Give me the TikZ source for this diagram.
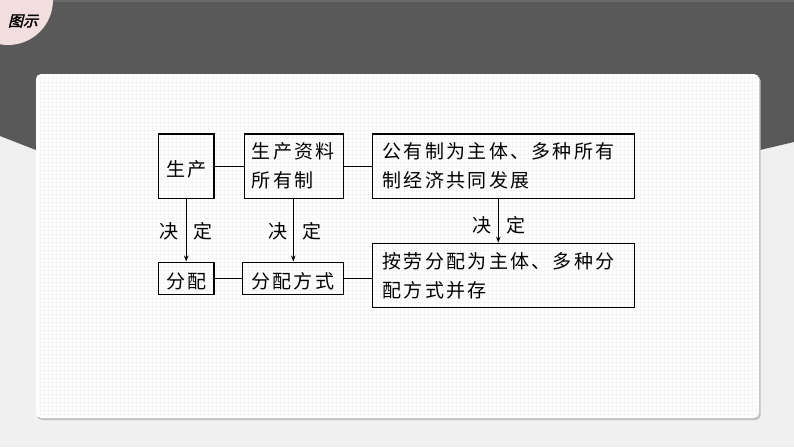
\documentclass[tikz,border=0pt]{standalone}
\usepackage{fontspec}
\newfontfamily\cjk[LetterSpace=12]{Noto Sans CJK SC}
\newfontfamily\cjkplain{Noto Sans CJK SC}
\newfontfamily\cjktitle[FakeSlant=0.25,FakeBold=2]{Noto Sans CJK SC}
\usetikzlibrary{arrows.meta,calc}
\definecolor{bgc}{HTML}{F0F0F0}
\definecolor{bandc}{HTML}{595959}
\definecolor{bandtop}{HTML}{6A6A6A}
\definecolor{pinkc}{HTML}{F2DEDE}
\definecolor{gridc}{HTML}{F5F5F5}
\tikzset{
  box/.style={draw=black, line width=1.2pt, inner sep=0pt, align=left,
    font=\cjk\fontsize{19pt}{29pt}\selectfont},
  onebox/.style={box, align=center, text height=22pt, text depth=2pt},
  conn/.style={draw=black, line width=1pt},
  arr/.style={conn, -{Stealth[length=6pt,width=4.5pt]}},
  lbl/.style={inner sep=0pt, text height=22pt, text depth=2pt,
    font=\cjkplain\fontsize{19pt}{20pt}\selectfont}
}
\begin{document}
\begin{tikzpicture}[x=1pt,y=-1pt]
\useasboundingbox (0,0) rectangle (794,447);
% background
\fill[bgc] (0,0) rectangle (794,447);
\fill[bandc] (0,0) -- (794,0) -- (794,142) -- (760,150) -- (36,150) -- (0,136) -- cycle;
\fill[bandtop] (0,0) rectangle (794,1.5);
% title badge
\begin{scope}
\clip (0,0) rectangle (794,447);
\fill[pinkc] (8,0) circle (45);
\end{scope}
\node[inner sep=0pt, font=\cjktitle\fontsize{15pt}{15pt}\selectfont] (title) at (23,21) {图示};
% card
\fill[black!25, rounded corners=5pt] (37,75.5) rectangle (760.5,420);
\fill[white, rounded corners=5pt] (36,74) rectangle (759,418);
\foreach \x in {40,44,...,756} \draw[gridc, line width=0.4pt] (\x,76) -- (\x,416);
\foreach \y in {78,82,...,414} \draw[gridc, line width=0.4pt] (38,\y) -- (757,\y);
% boxes
\node[onebox, minimum width=55.7pt, minimum height=64.3pt] (a) at (186.2,166.2) {生产};
\node[box, minimum width=99pt, minimum height=64.3pt, text width=84pt] (b) at (293.8,166.2) {生产资料\\所有制};
\node[box, minimum width=262pt, minimum height=64.3pt, text width=242pt] (c) at (503.7,166.2) {公有制为主体、多种所有\\制经济共同发展};
\node[onebox, minimum width=55.7pt, minimum height=32.6pt] (d) at (186.2,278.4) {分配};
\node[onebox, minimum width=101pt, minimum height=32.6pt] (e) at (292.8,278.4) {分配方式};
\node[box, minimum width=262pt, minimum height=64pt, text width=242pt] (f) at (503.7,275.3) {按劳分配为主体、多种分\\配方式并存};
% connectors
\draw[conn] (a.east) -- (a.east -| b.west);
\draw[conn] (b.east) -- (b.east -| c.west);
\draw[conn] (d.east) -- (d.east -| e.west);
\draw[conn] (e.east) -- (e.east -| f.west);
\draw[arr] (a.south) -- (d.north);
\draw[arr] ([xshift=-0.5pt]b.south) -- ([xshift=-0.5pt]b.south |- e.north);
\draw[arr] ([xshift=-5.4pt]c.south) -- ([xshift=-5.4pt]c.south |- f.north);
% labels
\node[lbl] (l1) at (169,228) {决};
\node[lbl] (l2) at (203,228) {定};
\node[lbl] (l3) at (278,228) {决};
\node[lbl] (l4) at (312,228) {定};
\node[lbl] (l5) at (482,222) {决};
\node[lbl] (l6) at (516,222) {定};
\end{tikzpicture}
\end{document}
